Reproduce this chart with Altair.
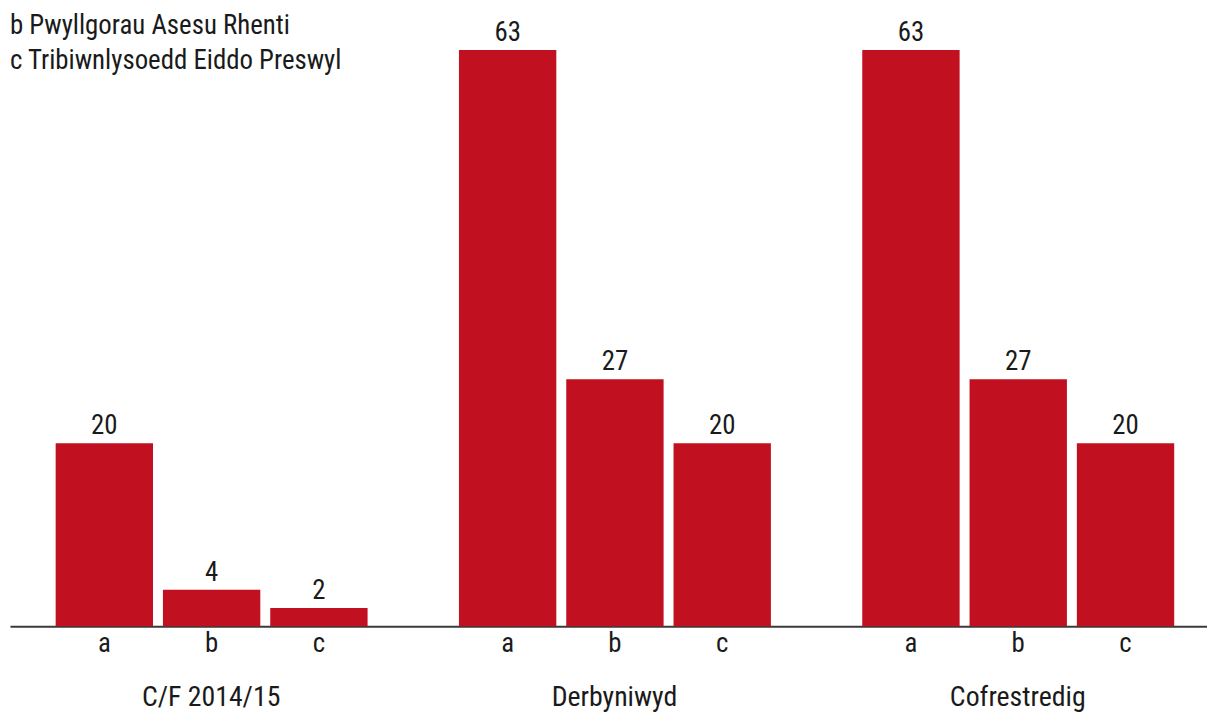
import altair as alt
import pandas as pd

groups = ["C/F 2014/15", "Derbyniwyd", "Cofrestredig"]
subs = ["a", "b", "c"]
values_cf = [20, 4, 2]
values_derbyniwyd = [63, 27, 20]
values_cofrestredig = [63, 27, 20]
legend_lines = [
    "a Tribiwnlys Prisio Lesddaliadau",
    "b Pwyllgorau Asesu Rhenti",
    "c Tribiwnlysoedd Eiddo Preswyl",
]

rows = []
for g, vals in zip(groups, [values_cf, values_derbyniwyd, values_cofrestredig]):
    for s, v in zip(subs, vals):
        rows.append({"group": g, "sub": s, "value": v})
df = pd.DataFrame(rows)
legend_df = pd.DataFrame({"t": ["\n".join(legend_lines)]})

FONT = "Liberation Sans Narrow, Roboto Condensed, DejaVu Sans Condensed, Arial Narrow, sans-serif"
RED = "#C1101F"
TXT = "#1a1a1a"
FS = 27

x_enc = alt.X(
    "group:N",
    sort=groups,
    scale=alt.Scale(paddingInner=0.032, paddingOuter=0),
    axis=alt.Axis(
        title=None,
        ticks=False,
        tickSize=0,
        labelFont=FONT,
        labelFontSize=28,
        labelColor=TXT,
        labelPadding=80,
        labelOffset=6,
        labelBaseline="alphabetic",
        labelAngle=0,
        labelOverlap=False,
        domainColor="#3a3a3a",
        domainWidth=2,
        grid=False,
    ),
)
xo_enc = alt.XOffset(
    "sub:N",
    sort=subs,
    scale=alt.Scale(paddingInner=10 / 108, paddingOuter=0.3657, align=0.582),
)
y_enc = alt.Y(
    "value:Q",
    scale=alt.Scale(domain=[0, 67.35], nice=False, zero=True),
    axis=None,
)

base = alt.Chart(df).encode(x=x_enc, xOffset=xo_enc)

bars = base.mark_bar(color=RED).encode(y=y_enc)
value_labels = base.mark_text(
    dy=-9, baseline="alphabetic", align="center", font=FONT, fontSize=FS, color=TXT
).encode(y=y_enc, text="value:Q")
sub_labels = base.mark_text(
    dy=26, baseline="alphabetic", align="center", font=FONT, fontSize=FS, color=TXT
).encode(y=alt.datum(0), text="sub:N")

legend = alt.Chart(legend_df).mark_text(
    align="left", baseline="alphabetic", lineBreak="\n", lineHeight=35,
    font=FONT, fontSize=FS, color=TXT
).encode(x=alt.value(0), y=alt.value(-11), text="t:N")

chart = (
    alt.layer(bars, value_labels, sub_labels, legend)
    .properties(
        width=1205,
        height=620,
        padding={"left": 2, "top": 0, "right": 0, "bottom": 86},
        autosize=alt.AutoSizeParams(type="none"),
    )
    .configure_view(stroke=None)
)

chart.save("out.html", embed_options={"renderer": "svg", "actions": False})
